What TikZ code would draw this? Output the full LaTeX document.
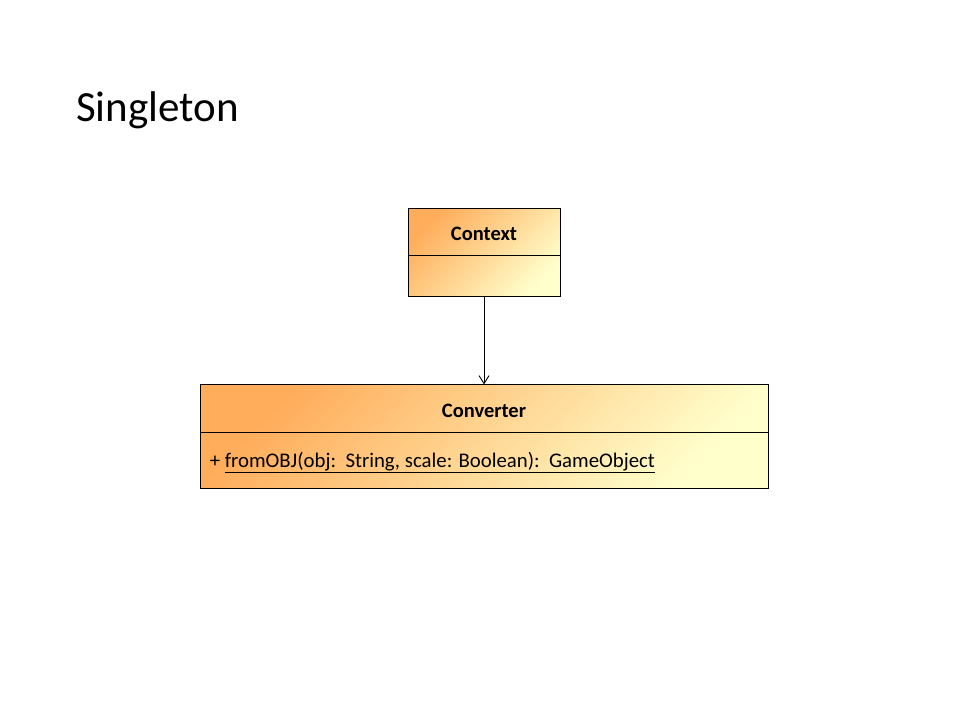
\documentclass[tikz,border=0pt]{standalone}
\usepackage{fontspec}
\setmainfont{Carlito}
\usetikzlibrary{positioning,calc,arrows.meta}

\definecolor{umlorange}{HTML}{FFAD5B}
\definecolor{umlyellow}{HTML}{FFFFCC}

\tikzstyle{classbox} = [rectangle, draw, line width=0.9pt, top color=umlorange, bottom color=umlyellow, shading angle=45, inner sep=0pt]
\tikzstyle{classname} = [font=\bfseries\fontsize{20.5}{24}\selectfont, minimum height=52pt, inner sep=0pt]
\tikzstyle{member} = [font=\fontsize{20.8}{24}\selectfont, minimum height=60pt, inner xsep=10pt, inner ysep=0pt]
\tikzstyle{line} = [draw, line width=0.9pt]

\begin{document}
\begin{tikzpicture}[x=1pt, y=-1pt]

\useasboundingbox[fill=white] (0,0) rectangle (960,720);

\node [anchor=base west, font=\fontsize{43}{50}\selectfont, inner sep=0pt] (title) at (76,121) {Singleton};

% class boxes
\node [classbox, minimum width=152pt, minimum height=88pt] (context) at (484,252) {};

\node [classbox, minimum width=568pt, minimum height=104pt, below=88pt of context] (converter) {};

% names and members
\node [classname, below=0pt of context.north] (contextname) {Context};

\node [classname, below=0pt of converter.north] (convertername) {Converter};

\node [member, below right=48pt and 0pt of converter.north west] (fromobj) {+ \underline{fromOBJ(obj:\ \ String, scale: Boolean):\ \ GameObject}};

% compartments
\draw [line] ($(context.north west)+(0,48)$) -- ($(context.north east)+(0,48)$);

\draw [line] ($(converter.north west)+(0,48)$) -- ($(converter.north east)+(0,48)$);

\draw [line, -{Straight Barb[length=8pt, width=10pt]}] (context.south) -- (converter.north);

\end{tikzpicture}
\end{document}
